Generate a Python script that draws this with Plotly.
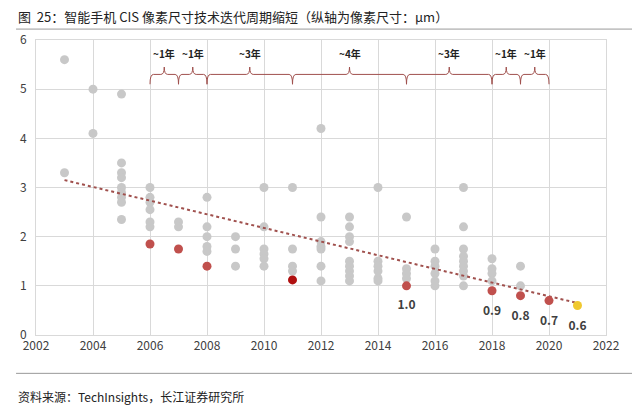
import plotly.graph_objects as go

grey = {
 2003: [5.6, 3.3], 2004: [5.0, 4.1],
 2005: [4.9, 3.5, 3.3, 3.2, 3.0, 2.9, 2.8, 2.7, 2.35],
 2006: [3.0, 2.8, 2.7, 2.55, 2.3, 2.2], 2007: [2.3, 2.2],
 2008: [2.8, 2.2, 2.0, 1.8, 1.7], 2009: [2.0, 1.75, 1.4],
 2010: [3.0, 2.2, 1.75, 1.65, 1.55, 1.4], 2011: [3.0, 1.75, 1.4, 1.3],
 2012: [4.2, 2.4, 1.9, 1.8, 1.75, 1.4, 1.1],
 2013: [2.4, 2.2, 2.0, 1.9, 1.5, 1.4, 1.3, 1.2, 1.1],
 2014: [3.0, 1.5, 1.4, 1.3, 1.15, 1.1], 2015: [2.4, 1.35, 1.25, 1.15],
 2016: [1.75, 1.5, 1.4, 1.25, 1.1, 1.0],
 2017: [3.0, 2.2, 1.75, 1.6, 1.5, 1.4, 1.3, 1.2, 1.0],
 2018: [1.55, 1.35, 1.25, 1.1], 2019: [1.4, 1.0],
}
red_x = [2006, 2007, 2008, 2011, 2015, 2018, 2019, 2020]
red_y = [1.85, 1.75, 1.4, 1.12, 1.0, 0.9, 0.8, 0.7]
red_c = ["#c0504d", "#c0504d", "#c0504d", "#b01010", "#c0504d", "#c0504d", "#c0504d", "#c0504d"]
yellow_x, yellow_y = [2021], [0.6]
label_x = [2015, 2018, 2019, 2020, 2021]
label_txt = ["1.0", "0.9", "0.8", "0.7", "0.6"]
label_y = [0.58, 0.46, 0.36, 0.26, 0.17]
trend_x, trend_y = [2003, 2021], [3.15, 0.65]
brace_edges = [2006, 2007, 2008, 2011, 2015, 2018, 2019, 2020]
brace_txt = ["~1年", "~1年", "~3年", "~4年", "~3年", "~1年", "~1年"]

gx = [x for x, v in grey.items() for _ in v]
gy = [y for v in grey.values() for y in v]

fig = go.Figure()
fig.add_trace(go.Scatter(x=gx, y=gy, mode="markers", marker=dict(color="#c8c8c8", size=9)))
fig.add_trace(go.Scatter(x=trend_x, y=trend_y, mode="lines", line=dict(color="#a0504d", dash="dot", width=2)))
fig.add_trace(go.Scatter(x=red_x, y=red_y, mode="markers", marker=dict(color=red_c, size=9)))
fig.add_trace(go.Scatter(x=yellow_x, y=yellow_y, mode="markers", marker=dict(color="#f0c830", size=9)))
fig.add_trace(go.Scatter(x=label_x, y=label_y, mode="text", text=["<b>%s</b>" % t for t in label_txt],
                         textfont=dict(size=12, color="#404040"), textposition="middle center"))

shapes = []
for a, b in zip(brace_edges[:-1], brace_edges[1:]):
    m = (a + b) / 2
    e = 0.12
    path = (f"M {a},5.1 Q {a},5.3 {a+e},5.3 L {m-e},5.3 Q {m},5.3 {m},5.45 "
            f"Q {m},5.3 {m+e},5.3 L {b-e},5.3 Q {b},5.3 {b},5.1")
    shapes.append(dict(type="path", path=path, xref="x", yref="y", line=dict(color="#a0504d", width=1)))
annotations = [dict(x=(a + b) / 2, y=5.72, text=f"<b>{t}</b>", showarrow=False,
                    font=dict(size=10, color="#222"))
               for a, b, t in zip(brace_edges[:-1], brace_edges[1:], brace_txt)]
annotations += [
    dict(x=-0.035, y=1.081, xref="paper", yref="paper", xanchor="left", yanchor="middle",
         text="图  25：智能手机 CIS 像素尺寸技术迭代周期缩短（纵轴为像素尺寸：μm）", showarrow=False,
         font=dict(size=13, color="#222")),
    dict(x=-0.035, y=-0.21, xref="paper", yref="paper", xanchor="left", yanchor="middle",
         text="资料来源：TechInsights，长江证券研究所", showarrow=False, font=dict(size=12, color="#222")),
]
fig.update_layout(
    width=640, height=411, showlegend=False, plot_bgcolor="white", paper_bgcolor="white",
    margin=dict(l=28, r=42, t=32, b=84),
    font=dict(family="Noto Sans CJK SC", size=12, color="#404040"),
    xaxis=dict(range=[2002, 2022], dtick=2, showgrid=True, gridcolor="#d9d9d9", zeroline=False,
               linecolor="#d9d9d9", ticks="", mirror=True, automargin=False),
    yaxis=dict(range=[0, 6], dtick=1, showgrid=True, gridcolor="#d9d9d9", zeroline=False,
               linecolor="#d9d9d9", mirror=True, automargin=False, ticklabelstandoff=6),
    shapes=shapes + [
        dict(type="line", xref="paper", yref="paper", x0=-0.035, x1=1.1, y0=1.037, y1=1.037, line=dict(color="#999", width=1)),
        dict(type="line", xref="paper", yref="paper", x0=-0.035, x1=1.1, y0=-0.13, y1=-0.13, line=dict(color="#999", width=1)),
    ],
    annotations=annotations,
)
fig.write_html("out.html")
